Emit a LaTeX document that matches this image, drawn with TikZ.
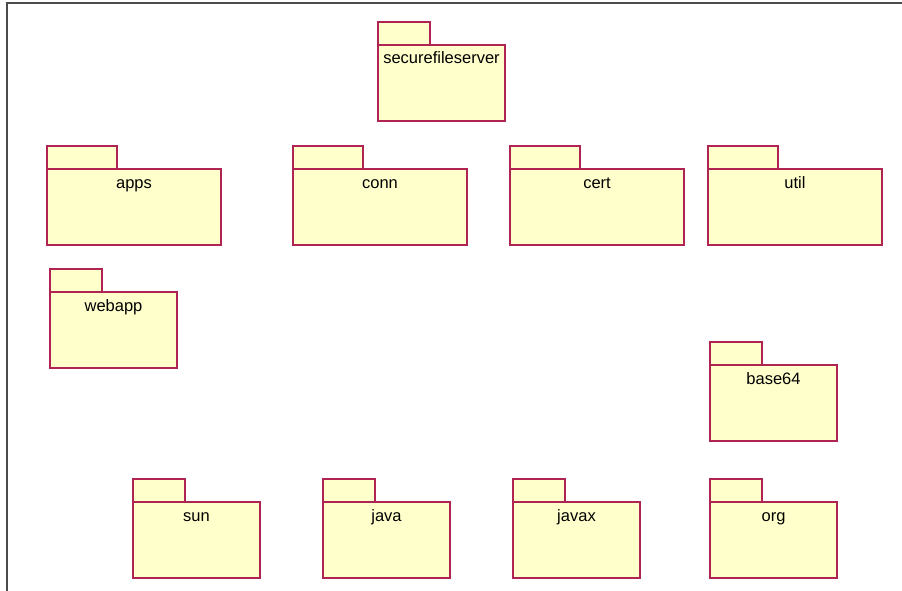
\documentclass[tikz,border=0pt]{standalone}
\usepackage{fontspec}
\setmainfont{Liberation Sans}
\usepackage{tikz}

\definecolor{pkgfill}{RGB}{255,255,204}
\definecolor{pkgline}{RGB}{176,36,84}
\definecolor{framegray}{RGB}{75,75,75}

\begin{document}
\begin{tikzpicture}[x=1pt, y=-1pt,
    pkg/.style={draw=pkgline, fill=pkgfill, line width=1.5pt, inner sep=0pt,
      outer sep=0pt, anchor=north west, text height=19pt, text depth=57pt,
      font=\fontsize{16.5}{20}\selectfont},
    smallpkg/.style={pkg, minimum width=127pt},
    bigpkg/.style={pkg, minimum width=174pt},
    pkgtab/.style={draw=pkgline, fill=pkgfill, line width=1.5pt, inner sep=0pt,
      outer sep=0pt, anchor=south west, minimum height=23pt},
    smalltab/.style={pkgtab, minimum width=52pt},
    bigtab/.style={pkgtab, minimum width=70pt}]
    \useasboundingbox (0,0) rectangle (902,591);
    % diagram frame (top and left edges only)
    \draw[framegray, line width=2pt] (902,3.5) -- (6.5,3.5) -- (6.5,591);

    % top level package
    \node[smallpkg] (securefileserver) at (378,45) {securefileserver};
    \node[smalltab] (securefileserver-tab) at (securefileserver.north west) {};

    % second row
    \node[bigpkg] (apps) at (47,169) {apps};
    \node[bigtab] (apps-tab) at (apps.north west) {};
    \node[bigpkg] (conn) at (293,169) {conn};
    \node[bigtab] (conn-tab) at (conn.north west) {};
    \node[bigpkg] (cert) at (510,169) {cert};
    \node[bigtab] (cert-tab) at (cert.north west) {};
    \node[bigpkg] (util) at (708,169) {util};
    \node[bigtab] (util-tab) at (util.north west) {};

    % nested ones
    \node[smallpkg] (webapp) at (50,292) {webapp};
    \node[smalltab] (webapp-tab) at (webapp.north west) {};
    \node[smallpkg] (base64) at (710,365) {base64};
    \node[smalltab] (base64-tab) at (base64.north west) {};

    % external packages
    \node[smallpkg] (sun) at (133,502) {sun};
    \node[smalltab] (sun-tab) at (sun.north west) {};
    \node[smallpkg] (java) at (323,502) {java};
    \node[smalltab] (java-tab) at (java.north west) {};
    \node[smallpkg] (javax) at (513,502) {javax};
    \node[smalltab] (javax-tab) at (javax.north west) {};
    \node[smallpkg] (org) at (710,502) {org};
    \node[smalltab] (org-tab) at (org.north west) {};
\end{tikzpicture}
\end{document}
